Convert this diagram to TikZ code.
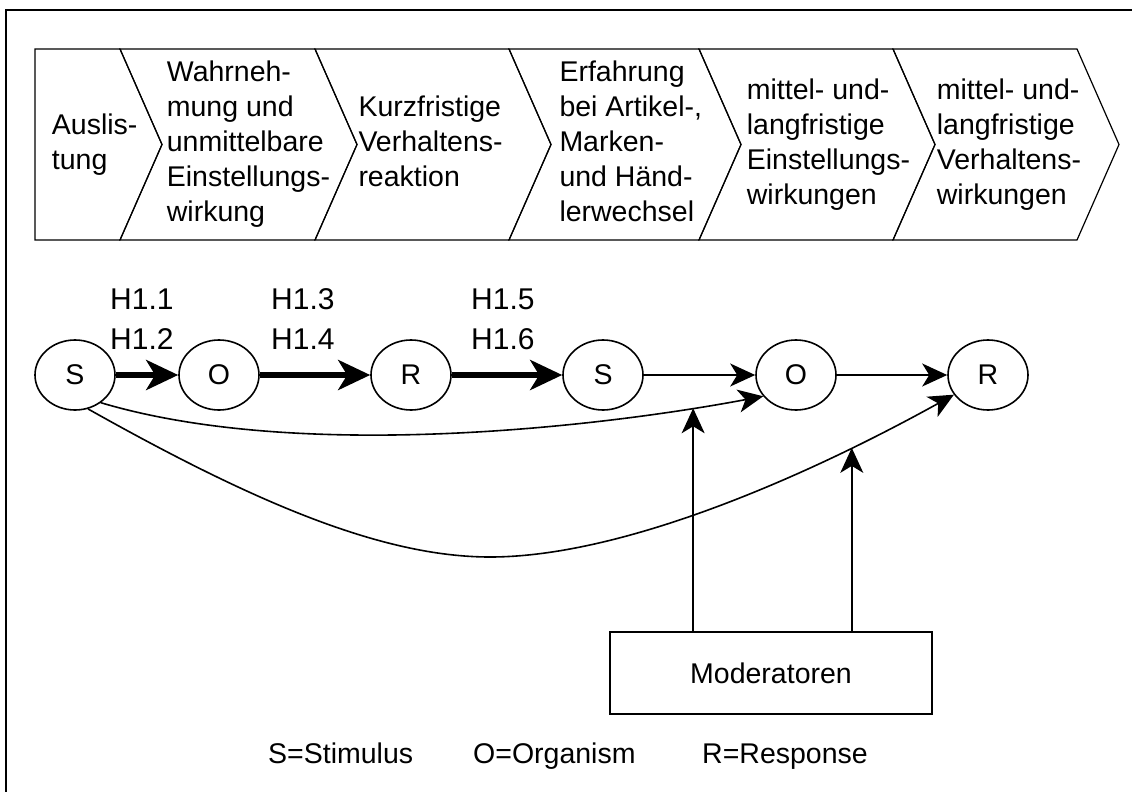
\documentclass[tikz,border=0pt]{standalone}
\usepackage{fontspec}
\setmainfont{Liberation Sans}
\usetikzlibrary{arrows.meta,shapes.geometric}

\begin{document}
\begin{tikzpicture}[x=1pt,y=-1pt,
  txt/.style={font=\fontsize{28.5}{35}\selectfont, inner sep=0pt},
  phase/.style={txt, align=left, anchor=west,
    execute at begin node=\strut, execute at end node=\strut},
  hyp/.style={txt, font=\fontsize{30}{40}\selectfont, align=left, anchor=west,
    execute at begin node=\strut, execute at end node=\strut},
  chev/.style={draw, line width=1.2pt, line join=miter},
  state/.style={ellipse, draw, line width=1.6pt, minimum width=80pt,
    minimum height=70pt, inner sep=0pt, txt},
  heavy/.style={line width=6.5pt, -{Stealth[length=32pt,width=30pt,inset=9pt]}},
  light/.style={line width=1.6pt, -{Stealth[length=25pt,width=23pt,inset=7pt]}},
  modbox/.style={draw, line width=1.6pt, minimum width=322pt, minimum height=82pt, txt},
]
\path[use as bounding box] (0,0) rectangle (1132,792);

% outer frame (only its left and top sides fall inside the page)
\draw[line width=2pt] (6,792) -- (6,10) -- (1132,10);

% phase chevrons
\draw[chev] (35,49) -- (120,49) -- (162,144.5) -- (120,240) -- (35,240) -- cycle;
\foreach \a/\b in {120/315, 315/509, 509/699, 699/893, 893/1077} {
  \draw[chev] (\a,49) -- (\b,49) -- (\b+42,144.5) -- (\b,240) -- (\a,240)
    -- (\a+42,144.5) -- cycle;
}

\node[phase] (p1) at (51.7,146.5) {Auslis-\\tung};
\node[phase] (p2) at (166.7,146.5) {Wahrneh-\\mung und\\unmittelbare\\Einstellungs-\\wirkung};
\node[phase] (p3) at (358.3,146.5) {Kurzfristige\\Verhaltens-\\reaktion};
\node[phase] (p4) at (559.3,146.5) {Erfahrung\\bei Artikel-,\\Marken-\\und Händ-\\lerwechsel};
\node[phase] (p5) at (746.7,146.5) {mittel- und-\\langfristige\\Einstellungs-\\wirkungen};
\node[phase] (p6) at (936.7,146.5) {mittel- und-\\langfristige\\Verhaltens-\\wirkungen};

% S-O-R chain
\node[state] (s1) at (75,375) {S};
\node[state] (o1) at (219,375) {O};
\node[state] (r1) at (411,375) {R};
\node[state] (s2) at (603,375) {S};
\node[state] (o2) at (796,375) {O};
\node[state] (r2) at (988,375) {R};

\draw[heavy] (s1) -- (o1);
\draw[heavy] (o1) -- (r1);
\draw[heavy] (r1) -- (s2);
\draw[light] (s2) -- (o2);
\draw[light] (o2) -- (r2);

% hypothesis labels
\node[hyp] (h1) at (110,325) {H1.1\\H1.2};
\node[hyp] (h3) at (271,325) {H1.3\\H1.4};
\node[hyp] (h5) at (471,325) {H1.5\\H1.6};

% long-term effects of the stimulus
\draw[light] (s1.-47) .. controls (300,462) and (600,427) .. (o2.213)
  coordinate[pos=0.87] (m1);
\draw[light] (s1.-69) .. controls (250,500) and (380,557) .. (490,557)
  .. controls (620,557) and (800,480) .. (r2.210)
  coordinate[pos=0.785] (m2);

% moderators
\node[modbox] (mod) at (771,673) {Moderatoren};
\draw[light] (m1 |- mod.north) -- (m1);
\draw[light] (m2 |- mod.north) -- (m2);

% legend
\node[txt, anchor=base west] (k1) at (268,763) {S=Stimulus};
\node[txt, anchor=base west] (k2) at (473,763) {O=Organism};
\node[txt, anchor=base west] (k3) at (702,763) {R=Response};
\end{tikzpicture}
\end{document}
